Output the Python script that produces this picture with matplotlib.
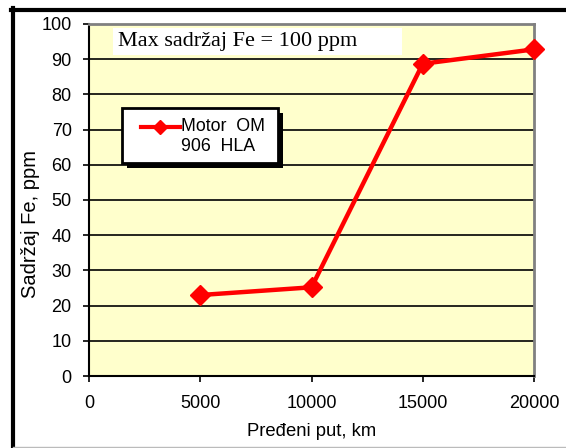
import matplotlib
matplotlib.use("Agg")
import matplotlib.pyplot as plt
from matplotlib.lines import Line2D
from matplotlib.patches import Rectangle

distance_km = [5000, 10000, 15000, 20000]
fe_ppm = [23.0, 25.2, 88.7, 92.8]
series_label = "Motor  OM\n906  HLA"
note_text = "Max sadržaj Fe = 100 ppm"
x_ticks = [0, 5000, 10000, 15000, 20000]
y_ticks = list(range(0, 101, 10))

W, H = 566, 448
fig = plt.figure(figsize=(W / 100, H / 100), dpi=100)
fig.patch.set_facecolor("white")
plt.rcParams["font.family"] = ["Liberation Sans", "DejaVu Sans"]


def fx(px):
    return px / W


def fy(py):
    return 1 - py / H


L, R, T, B = 89, 534, 24, 376
ax = fig.add_axes([L / W, (H - B) / H, (R - L) / W, (B - T) / H])
ax.set_facecolor("#FFFFCC")

line_color = "#FF0000"
ax.plot(distance_km, fe_ppm, color=line_color, lw=3.2, marker="D", markersize=10,
        label=series_label, zorder=5, clip_on=False)

ax.set_xlim(0, 20000)
ax.set_ylim(0, 100)
ax.set_xticks(x_ticks)
ax.set_yticks(y_ticks)
ax.yaxis.grid(True, color="black", lw=1.2)
ax.set_axisbelow(True)
ax.tick_params(direction="out", length=4.5, width=1.2, labelsize=13, pad=8, colors="black")
ax.tick_params(axis="x", pad=9)
for s in ["top", "right"]:
    ax.spines[s].set_color("#808080")
    ax.spines[s].set_linewidth(2)
for s in ["left", "bottom"]:
    ax.spines[s].set_color("black")
    ax.spines[s].set_linewidth(1.5)

ax.set_xlabel("Pređeni put, km", fontsize=13.3, labelpad=8)
ax.set_ylabel("Sadržaj Fe, ppm", fontsize=14.5)
ax.yaxis.set_label_coords((40 - L) / (R - L), (B - 224) / (B - T))

# note box
fig.add_artist(Rectangle((fx(113), fy(55)), fx(402) - fx(113), fy(28) - fy(55),
                         transform=fig.transFigure, fc="white", ec="none", zorder=6))
fig.text(fx(118), fy(41.5), note_text, family=["Liberation Serif", "DejaVu Serif"],
         fontsize=16, va="center", ha="left", zorder=7)

# legend (manual, with black shadow)
fig.add_artist(Rectangle((fx(127), fy(168)), fx(283) - fx(127), fy(113) - fy(168),
                         transform=fig.transFigure, fc="black", ec="none", zorder=6))
fig.add_artist(Rectangle((fx(122), fy(163)), fx(278) - fx(122), fy(108) - fy(163),
                         transform=fig.transFigure, fc="white", ec="black", lw=2, zorder=7))
fig.add_artist(Line2D([fx(141), fx(180)], [fy(127), fy(127)], transform=fig.transFigure,
                      color=line_color, lw=3, zorder=8))
fig.add_artist(Line2D([fx(160)], [fy(127)], transform=fig.transFigure, color=line_color,
                      marker="D", markersize=7, zorder=8))
fig.text(fx(181), fy(118), series_label, fontsize=12.8, va="top", ha="left",
         linespacing=1.25, zorder=8)

# outer frame
fig.add_artist(Line2D([fx(13), fx(13)], [0, fy(8)], transform=fig.transFigure,
                      color="black", lw=3))
fig.add_artist(Line2D([fx(11), 1], [fy(10), fy(10)], transform=fig.transFigure,
                      color="black", lw=3))
fig.add_artist(Line2D([fx(13), 1], [fy(446.5), fy(446.5)], transform=fig.transFigure,
                      color="#BBBBBB", lw=1))

fig.savefig("out.png", dpi=100)
